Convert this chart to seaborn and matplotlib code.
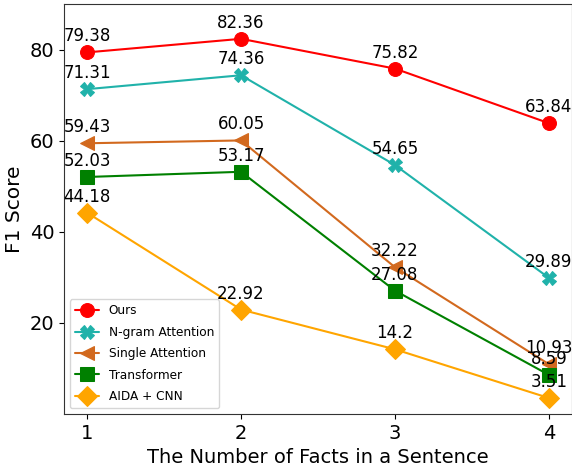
import matplotlib
matplotlib.use("Agg")
import matplotlib.pyplot as plt
import seaborn as sns
import pandas as pd

facts = [1, 2, 3, 4]
ours = [79.38, 82.36, 75.82, 63.84]
ngram_attention = [71.31, 74.36, 54.65, 29.89]
single_attention = [59.43, 60.05, 32.22, 10.93]
transformer = [52.03, 53.17, 27.08, 8.59]
aida_cnn = [44.18, 22.92, 14.2, 3.51]

series = [
    ("Ours", ours, "red", "o"),
    ("N-gram Attention", ngram_attention, "lightseagreen", "X"),
    ("Single Attention", single_attention, "chocolate", "<"),
    ("Transformer", transformer, "green", "s"),
    ("AIDA + CNN", aida_cnn, "orange", "D"),
]

sns.set_style("ticks")
plt.rcParams["font.family"] = ["DejaVu Sans"]
plt.rcParams["text.color"] = "black"
plt.rcParams["axes.labelcolor"] = "black"
plt.rcParams["xtick.color"] = "black"
plt.rcParams["ytick.color"] = "black"

fig = plt.figure(figsize=(5.72, 4.72), dpi=100)
ax = fig.add_axes([0.1119, 0.1229, 0.888, 0.8686])

for name, vals, color, marker in series:
    df = pd.DataFrame({"x": facts, "y": vals})
    sns.lineplot(data=df, x="x", y="y", ax=ax, color=color, marker=marker,
                 markersize=10, markeredgecolor=color, linewidth=1.5, label=name)
    for xv, yv in zip(facts, vals):
        ax.annotate(f"{yv:g}", (xv, yv), xytext=(0, 5), textcoords="offset points",
                    ha="center", va="bottom", fontsize=12, color="black")

ax.set_xlim(0.85, 4.15)
ax.set_ylim(0, 90)
ax.set_xticks(facts)
ax.set_yticks([20, 40, 60, 80])
ax.tick_params(labelsize=14)
for sp in ax.spines.values():
    sp.set_color("#333333")
ax.set_xlabel("The Number of Facts in a Sentence", fontsize=14)
ax.set_ylabel("F1 Score", fontsize=14.5)
ax.legend(loc="lower left", fontsize=8.7, labelspacing=0.7)

fig.savefig("out.png", dpi=100)
